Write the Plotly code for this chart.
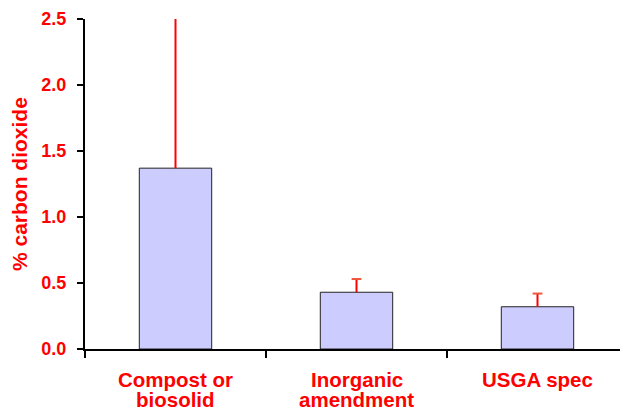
import plotly.graph_objects as go

categories = ["Compost or<br>biosolid", "Inorganic<br>amendment", "USGA spec"]
values = [1.37, 0.43, 0.32]
err_plus = [1.25, 0.10, 0.10]
y_ticks = [0.0, 0.5, 1.0, 1.5, 2.0, 2.5]
y_ticklabels = ["0.0", "0.5", "1.0", "1.5", "2.0", "2.5"]
y_title = "% carbon dioxide"

red = "#ff0000"
font_family = "Liberation Sans, Arial, sans-serif"

fig = go.Figure()
fig.add_trace(
    go.Bar(
        x=categories,
        y=values,
        width=0.4,
        marker=dict(color="#ccccff", line=dict(color="#222222", width=1)),
        error_y=dict(
            type="data",
            symmetric=False,
            array=err_plus,
            arrayminus=[0, 0, 0],
            color=red,
            thickness=2,
            width=0,
        ),
    )
)
# caps on the upper end of the error bars only
fig.add_trace(
    go.Scatter(
        x=categories,
        y=[v + e for v, e in zip(values, err_plus)],
        mode="markers",
        marker=dict(symbol="line-ew-open", size=7, line=dict(color=red, width=2)),
        cliponaxis=True,
        hoverinfo="skip",
    )
)

fig.update_layout(
    width=620,
    height=407,
    margin=dict(l=77, r=0, t=11, b=66),
    plot_bgcolor="white",
    paper_bgcolor="white",
    showlegend=False,
    font=dict(family=font_family, color=red),
)

# category labels, one annotation per line
for cat in categories:
    for i, line in enumerate(cat.split("<br>")):
        fig.add_annotation(
            x=cat,
            y=0,
            xref="x",
            yref="paper",
            text=line,
            showarrow=False,
            yanchor="top",
            yshift=-18 - 20 * i,
            borderpad=0,
            font=dict(size=20.5, color=red, family=font_family, weight="bold"),
        )

# y-axis title
fig.add_annotation(
    x=0,
    y=0.5,
    xref="paper",
    yref="paper",
    text=y_title,
    textangle=-90,
    showarrow=False,
    xanchor="center",
    yanchor="middle",
    xshift=-66,
    font=dict(size=21, color=red, family=font_family, weight="bold"),
)

fig.update_xaxes(
    type="category",
    tickson="boundaries",
    ticks="outside",
    ticklen=7,
    tickwidth=2,
    tickcolor="black",
    showline=True,
    linecolor="black",
    linewidth=2,
    showgrid=False,
    showticklabels=False,
)

fig.update_yaxes(
    range=[0, 2.5],
    tickvals=y_ticks,
    ticktext=y_ticklabels,
    ticks="outside",
    ticklen=6,
    tickwidth=2,
    tickcolor="black",
    showline=True,
    linecolor="black",
    linewidth=2,
    showgrid=False,
    zeroline=False,
    tickfont=dict(size=18, color=red, family=font_family, weight="bold"),
    ticklabelstandoff=7,
)

fig.write_html("out.html")
